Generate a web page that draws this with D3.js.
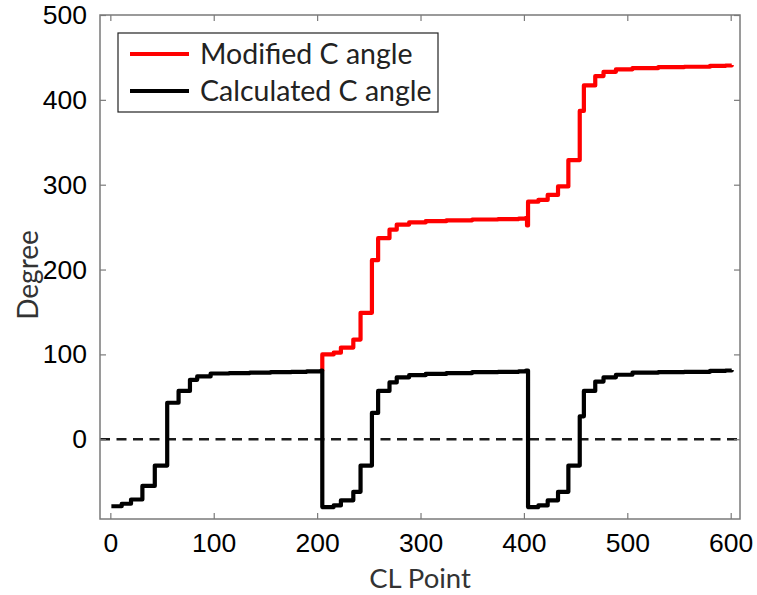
<!DOCTYPE html>
<html>
<head>
<meta charset="utf-8">
<script src="https://cdn.jsdelivr.net/npm/d3@7/dist/d3.min.js"></script>
<style>
html,body{margin:0;padding:0;background:#fff;}
svg{display:block;}
</style>
</head>
<body>
<svg id="chart" width="757" height="595"></svg>
<script>
// ---- data ----
const xTicks = [0, 100, 200, 300, 400, 500, 600];
const yTicks = [0, 100, 200, 300, 400, 500];

// Calculated C angle (black) : step breakpoints
const calcX = [1, 11, 20, 31, 43, 55, 66, 77, 84, 97, 115, 135, 155, 175, 190, 204,
  205, 216, 223, 235, 242, 253, 259, 270, 277, 289, 305, 325, 350, 375, 395, 402,
  404, 414, 423, 433, 443, 454, 458, 469, 477, 489, 505, 530, 555, 580, 595, 601];
const calcY = [-79, -76, -71, -55, -31, 43, 57, 70, 74, 77.5, 78, 78.5, 79, 79.5, 80, 81,
  -80, -78, -72, -62, -31, 31, 57, 67, 73, 75.5, 77, 78, 79, 79.5, 80, 81,
  -80, -78, -72, -62, -31, 27, 57, 68, 73, 76, 78.5, 79, 79.5, 80.5, 81, 81.5];

// Modified C angle (red) : step breakpoints
const modX = [204, 205, 216, 223, 235, 242, 253, 259, 270, 277, 289, 305, 325, 350, 375, 395, 402, 403,
  404, 414, 423, 433, 443, 454, 458, 469, 477, 489, 505, 530, 555, 580, 595, 601];
const modY = [81, 100, 102, 108, 117.5, 149, 211, 237, 247, 253, 255.5, 257, 258, 259, 259.5, 260, 261, 252,
  280, 282, 288, 298, 329, 387, 417, 428, 433, 436, 437.5, 438.5, 439, 440, 440.5, 441];

const seriesNames = ["Modified C angle", "Calculated C angle"];
const seriesColors = ["#ff0000", "#000000"];

// ---- chart ----
const svg = d3.select("#chart");
const L = 100, R = 740, T = 15, B = 519;
const x = d3.scaleLinear().domain([-10, 609]).range([L, R]);
const y = d3.scaleLinear().domain([-94, 500]).range([B, T]);

const axisColor = "#7a7a7a";

// zero dashed line
svg.append("line")
  .attr("x1", L).attr("x2", R)
  .attr("y1", y(0)).attr("y2", y(0))
  .attr("stroke", "#1a1a1a").attr("stroke-width", 2.6)
  .attr("stroke-dasharray", "10,6.5");

const line = d3.line().x(d => x(d[0])).y(d => y(d[1])).curve(d3.curveStepAfter);
const modData = modX.map((v, i) => [v, modY[i]]);
const calcData = calcX.map((v, i) => [v, calcY[i]]);

svg.append("path").datum(modData).attr("d", line)
  .attr("fill", "none").attr("stroke", seriesColors[0]).attr("stroke-width", 4.2)
  .attr("stroke-linejoin", "round");
svg.append("path").datum(calcData).attr("d", line)
  .attr("fill", "none").attr("stroke", seriesColors[1]).attr("stroke-width", 4.2)
  .attr("stroke-linejoin", "round");

// axes
function styleAxis(g) {
  g.select(".domain").remove();
  g.selectAll(".tick line").attr("stroke", axisColor).attr("stroke-width", 1.2);
  g.selectAll(".tick text").attr("fill", "#000")
    .style("font-family", "'Liberation Sans', Arial, sans-serif").style("font-size", "26.5px");
}
svg.append("g").attr("transform", `translate(0,${B})`)
  .call(d3.axisBottom(x).tickValues(xTicks).tickSizeInner(-6).tickSizeOuter(0).tickPadding(14))
  .call(styleAxis);
svg.append("g").attr("transform", `translate(0,${T})`)
  .call(d3.axisTop(x).tickValues(xTicks).tickSizeInner(-6).tickSizeOuter(0).tickFormat(""))
  .call(styleAxis);
svg.append("g").attr("transform", `translate(${L},0)`)
  .call(d3.axisLeft(y).tickValues(yTicks).tickSizeInner(-6).tickSizeOuter(0).tickPadding(13))
  .call(styleAxis);
svg.append("g").attr("transform", `translate(${R},0)`)
  .call(d3.axisRight(y).tickValues(yTicks).tickSizeInner(-6).tickSizeOuter(0).tickFormat(""))
  .call(styleAxis);

// frame
svg.append("rect").attr("x", L).attr("y", T).attr("width", R - L).attr("height", B - T)
  .attr("fill", "none").attr("stroke", axisColor).attr("stroke-width", 1.5);

// axis labels
svg.append("text").attr("x", (L + R) / 2).attr("y", 588)
  .attr("text-anchor", "middle").attr("fill", "#333")
  .style("font-family", "Lato, sans-serif").style("font-size", "27.5px")
  .text("CL Point");
svg.append("text").attr("transform", `translate(38,${(T + B) / 2 + 8}) rotate(-90)`)
  .attr("text-anchor", "middle").attr("fill", "#333")
  .style("font-family", "Lato, sans-serif").style("font-size", "28px")
  .text("Degree");

// legend
const lg = svg.append("g");
lg.append("rect").attr("x", 118).attr("y", 33).attr("width", 320).attr("height", 79)
  .attr("fill", "#fff").attr("stroke", "#222").attr("stroke-width", 1.2);
seriesNames.forEach((name, i) => {
  const cy = 54 + i * 37;
  lg.append("line").attr("x1", 130).attr("x2", 189).attr("y1", cy).attr("y2", cy)
    .attr("stroke", seriesColors[i]).attr("stroke-width", 4);
  lg.append("text").attr("x", 200).attr("y", cy).attr("dy", "0.35em")
    .attr("fill", "#222")
    .style("font-family", "Lato, sans-serif").style("font-size", "28.5px")
    .text(name);
});
</script>
</body>
</html>
